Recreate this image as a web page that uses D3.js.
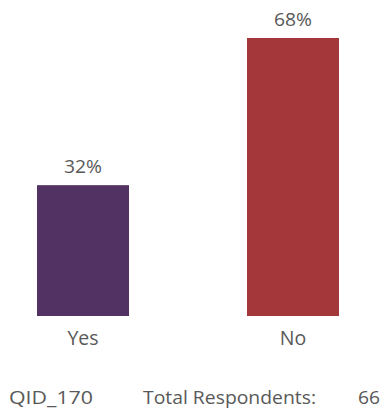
<!DOCTYPE html>
<html>
<head>
<meta charset="utf-8">
<script src="https://cdn.jsdelivr.net/npm/d3@7"></script>
<style>
  html, body { margin: 0; padding: 0; background: #fff; }
  svg { display: block; }
  text { font-family: "Open Sans", sans-serif; fill: #595959; }
</style>
</head>
<body>
<svg id="chart" width="383" height="411"></svg>
<script>
const categories = ["Yes", "No"];
const values = [32, 68];
const colors = ["#523163", "#a33739"];
const footerId = "QID_170";
const footerLabel = "Total Respondents:";
const footerTotal = 66;

const svg = d3.select("#chart");
const baseY = 316;

const x = d3.scaleBand().domain(categories).range([-22, 398]).paddingInner(118 / 210).paddingOuter(59 / 210);
const y = d3.scaleLinear().domain([0, 68]).range([baseY, 38]);

svg.selectAll("rect.bar").data(values).enter().append("rect")
  .attr("class", "bar")
  .attr("x", (d, i) => x(categories[i]))
  .attr("width", x.bandwidth())
  .attr("y", d => y(d))
  .attr("height", d => baseY - y(d))
  .attr("fill", (d, i) => colors[i]);

svg.selectAll("text.val").data(values).enter().append("text")
  .attr("class", "val")
  .attr("x", (d, i) => x(categories[i]) + x.bandwidth() / 2)
  .attr("y", d => y(d) - 12)
  .attr("text-anchor", "middle")
  .attr("textLength", 38)
  .attr("lengthAdjust", "spacingAndGlyphs")
  .style("font-size", "18.5px")
  .text(d => d + "%");

const xAxis = d3.axisBottom(x).tickSize(0).tickPadding(0);
const ax = svg.append("g").attr("transform", `translate(0,${baseY})`).call(xAxis);
ax.select(".domain").remove();
ax.selectAll("text")
  .attr("dy", null)
  .attr("y", 29)
  .style("font-size", "19.5px")
  .style("font-family", "'Open Sans', sans-serif")
  .attr("fill", "#595959");

const footer = svg.append("g").style("font-size", "17.5px");
footer.append("text").attr("x", 9).attr("y", 404)
  .attr("textLength", 84).attr("lengthAdjust", "spacingAndGlyphs").text(footerId);
footer.append("text").attr("x", 143).attr("y", 404)
  .attr("textLength", 173).attr("lengthAdjust", "spacingAndGlyphs").text(footerLabel);
footer.append("text").attr("x", 358).attr("y", 404)
  .attr("textLength", 22).attr("lengthAdjust", "spacingAndGlyphs").text(footerTotal);
</script>
</body>
</html>
